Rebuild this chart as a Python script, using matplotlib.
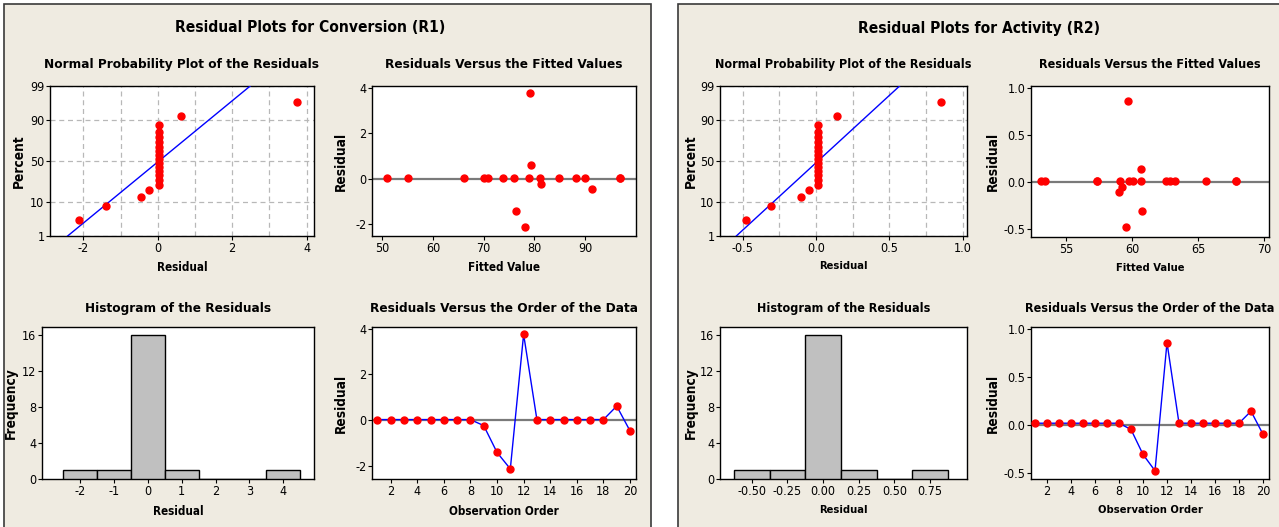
import matplotlib
matplotlib.use('Agg')
import matplotlib.pyplot as plt
import numpy as np
from matplotlib import font_manager
from matplotlib.patches import Rectangle
from statistics import NormalDist

# --- datos ---
orden = list(range(1, 21))

conv_resid = [0.03, 0.03, 0.03, 0.03, 0.03, 0.03, 0.03, 0.03, -0.23, -1.40,
              -2.12, 3.75, 0.03, 0.03, 0.03, 0.03, 0.03, 0.03, 0.62, -0.46]
conv_ajuste = [51.0, 55.0, 66.1, 70.0, 70.9, 73.9, 75.9, 79.0, 81.2, 76.4,
               78.2, 79.2, 81.0, 84.9, 88.1, 90.0, 96.9, 96.9, 79.4, 91.3]

act_resid = [0.015, 0.015, 0.015, 0.015, 0.015, 0.015, 0.015, 0.015, -0.05, -0.31,
             -0.48, 0.855, 0.015, 0.015, 0.015, 0.015, 0.015, 0.015, 0.14, -0.10]
act_ajuste = [53.16, 53.41, 57.32, 57.32, 59.09, 59.80, 60.05, 60.66, 59.24, 60.76,
              59.55, 59.70, 62.58, 62.90, 63.23, 65.60, 67.88, 67.88, 60.66, 58.99]

conv_bins = [-2.5, -1.5, -0.5, 0.5, 1.5, 2.5, 3.5, 4.5]
act_bins = [-0.625, -0.375, -0.125, 0.125, 0.375, 0.625, 0.875]

pct_ticks = [1, 10, 50, 90, 99]


# buscar una fuente estrecha (condensed / narrow) entre las instaladas
def buscar(bold):
    mejores = []
    for f in font_manager.fontManager.ttflist:
        estrecha = ('Narrow' in f.name or 'Condensed' in f.name or 'Condensed' in f.fname
                    or f.stretch in ('condensed', 'semi-condensed', 'extra-condensed'))
        w = f.weight if isinstance(f.weight, int) else (700 if f.weight == 'bold' else 400)
        if estrecha and f.style == 'normal' and ((w >= 600) == bold):
            mejores.append(f.fname)
    if mejores:
        return font_manager.FontProperties(fname=sorted(mejores)[0])
    return font_manager.FontProperties(family='Liberation Sans', weight='bold' if bold else 'normal')


fp_bold = buscar(True)
fp_num = buscar(False)
plt.rcParams['axes.unicode_minus'] = False

W, H = 1279, 527
fig = plt.figure(figsize=(W / 100, H / 100), dpi=100, facecolor='white')
beige = '#EFEBE1'

# paneles de fondo
fig.patches.append(Rectangle((4 / W, -0.01), 647 / W, (H - 4) / H + 0.01, transform=fig.transFigure,
                             facecolor=beige, edgecolor='#3a3a3a', linewidth=1.2, zorder=-5))
fig.patches.append(Rectangle((678 / W, -0.01), (W - 678 + 5) / W, (H - 4) / H + 0.01,
                             transform=fig.transFigure, facecolor=beige, edgecolor='#3a3a3a',
                             linewidth=1.2, zorder=-5))


def px_axes(l, t, r, b):
    ax = fig.add_axes([l / W, 1 - b / H, (r - l) / W, (b - t) / H])
    ax.set_facecolor('white')
    for s in ax.spines.values():
        s.set_color('black')
        s.set_linewidth(1.0)
    ax.tick_params(direction='out', length=3, width=0.8, pad=1)
    ax.tick_params(which='minor', length=0)
    return ax


def fuente(txt, fp, size):
    txt.set_fontproperties(fp)
    txt.set_fontsize(size)


def titulo(ax, txt, pad, size):
    t = ax.set_title(txt, pad=pad)
    fuente(t, fp_bold, size)


def etiquetas(ax, xl, yl, ypos_x, xpos_y, xsize):
    fuente(ax.set_xlabel(xl), fp_bold, xsize)
    fuente(ax.set_ylabel(yl), fp_bold, 9.8)
    ax.xaxis.set_label_coords(0.5, ypos_x)
    ax.yaxis.set_label_coords(xpos_y, 0.5)
    for lab in ax.get_xticklabels() + ax.get_yticklabels():
        fuente(lab, fp_num, 9)


nd = NormalDist()
zmin, zmax = nd.inv_cdf(0.01), nd.inv_cdf(0.99)


def prob_normal(ax, resid, xlim, xmaj, xmin_, fmt):
    r = np.sort(np.array(resid))
    n = len(r)
    z = [nd.inv_cdf((i - 0.3) / (n + 0.4)) for i in range(1, n + 1)]
    mu, sd = np.mean(r), np.std(r, ddof=1)
    ax.plot([mu + sd * zmin, mu + sd * zmax], [zmin, zmax], color='#0000FF', lw=1, zorder=3)
    ax.plot(r, z, 'o', color='#FF0000', ms=5, zorder=4, clip_on=False)
    ax.set_xlim(*xlim)
    ax.set_ylim(zmin, zmax)
    ax.set_yticks([nd.inv_cdf(p / 100) for p in pct_ticks])
    ax.set_yticklabels([str(p) for p in pct_ticks])
    ax.set_xticks(xmaj)
    ax.set_xticks(xmin_, minor=True)
    ax.set_xticklabels([fmt % v for v in xmaj])
    ax.grid(True, which='both', axis='x', color='#B8B8B8', linestyle=(0, (4, 3)), lw=0.9)
    ax.grid(True, which='major', axis='y', color='#B8B8B8', linestyle=(0, (4, 3)), lw=0.9)
    ax.set_axisbelow(True)


def vs_ajuste(ax, ajuste, resid, xlim, ylim, xt, yt, fmt):
    ax.axhline(0, color='#7a7a7a', lw=1.6, zorder=2)
    ax.plot(ajuste, resid, 'o', color='#FF0000', ms=5, zorder=4)
    ax.set_xlim(*xlim)
    ax.set_ylim(*ylim)
    ax.set_xticks(xt)
    ax.set_xticklabels([str(v) for v in xt])
    ax.set_yticks(yt)
    ax.set_yticklabels([fmt % v for v in yt])


def histo(ax, resid, bins, xlim, xt, fmt):
    ax.hist(resid, bins=bins, color='#C0C0C0', edgecolor='black', lw=1, zorder=3)
    ax.set_xlim(*xlim)
    ax.set_ylim(0, 16.85)
    ax.set_xticks(xt)
    ax.set_xticklabels([fmt % v for v in xt])
    ax.set_yticks([0, 4, 8, 12, 16])
    ax.set_yticklabels(['0', '4', '8', '12', '16'])


def vs_orden(ax, resid, xlim, ylim, yt, fmt):
    ax.axhline(0, color='#7a7a7a', lw=1.6, zorder=2)
    ax.plot(orden, resid, '-', color='#0000FF', lw=1, zorder=3)
    ax.plot(orden, resid, 'o', color='#FF0000', ms=5, zorder=4)
    ax.set_xlim(*xlim)
    ax.set_ylim(*ylim)
    xt = list(range(2, 21, 2))
    ax.set_xticks(xt)
    ax.set_xticklabels([str(v) for v in xt])
    ax.set_yticks(yt)
    ax.set_yticklabels([fmt % v for v in yt])


# ---------- Panel izquierdo: Conversion ----------
t = fig.text(310 / W, 1 - 28 / H, 'Residual Plots for Conversion (R1)', ha='center', va='center')
fuente(t, fp_bold, 11.2)

a1 = px_axes(50, 86, 314, 236)
prob_normal(a1, conv_resid, (-2.9, 4.2), [-2, 0, 2, 4], [-1, 1, 3], '%g')
titulo(a1, 'Normal Probability Plot of the Residuals', 13, 9.7)
etiquetas(a1, 'Residual', 'Percent', -0.17, -0.09, 8.4)

a2 = px_axes(372, 86, 636, 236)
vs_ajuste(a2, conv_ajuste, conv_resid, (48.0, 100.0), (-2.51, 4.07), [50, 60, 70, 80, 90],
          [-2, 0, 2, 4], '%g')
titulo(a2, 'Residuals Versus the Fitted Values', 13, 9.7)
etiquetas(a2, 'Fitted Value', 'Residual', -0.17, -0.09, 8.4)

a3 = px_axes(42, 327, 314, 479)
histo(a3, conv_resid, conv_bins, (-3.11, 4.9), [-2, -1, 0, 1, 2, 3, 4], '%g')
titulo(a3, 'Histogram of the Residuals', 11, 9.7)
etiquetas(a3, 'Residual', 'Frequency', -0.17, -0.09, 8.4)

a4 = px_axes(372, 327, 636, 479)
vs_orden(a4, conv_resid, (0.6, 20.45), (-2.56, 4.07), [-2, 0, 2, 4], '%g')
titulo(a4, 'Residuals Versus the Order of the Data', 11, 9.7)
etiquetas(a4, 'Observation Order', 'Residual', -0.17, -0.09, 8.4)

# ---------- Panel derecho: Activity ----------
t = fig.text(979 / W, 1 - 28 / H, 'Residual Plots for Activity (R2)', ha='center', va='center')
fuente(t, fp_bold, 11.2)

b1 = px_axes(720, 86, 967, 236)
prob_normal(b1, act_resid, (-0.655, 1.03), [-0.5, 0.0, 0.5, 1.0], [-0.25, 0.25, 0.75], '%.1f')
titulo(b1, 'Normal Probability Plot of the Residuals', 13, 9.0)
etiquetas(b1, 'Residual', 'Percent', -0.17, -0.09, 8.0)

b2 = px_axes(1031, 86, 1269, 237)
vs_ajuste(b2, act_ajuste, act_resid, (52.37, 70.35), (-0.582, 1.018), [55, 60, 65, 70],
          [-0.5, 0.0, 0.5, 1.0], '%.1f')
titulo(b2, 'Residuals Versus the Fitted Values', 13, 9.0)
etiquetas(b2, 'Fitted Value', 'Residual', -0.17, -0.13, 8.0)

b3 = px_axes(720, 327, 967, 479)
histo(b3, act_resid, act_bins, (-0.722, 1.009), [-0.5, -0.25, 0.0, 0.25, 0.5, 0.75], '%.2f')
titulo(b3, 'Histogram of the Residuals', 11, 9.0)
etiquetas(b3, 'Residual', 'Frequency', -0.17, -0.09, 8.0)

b4 = px_axes(1031, 327, 1269, 479)
vs_orden(b4, act_resid, (0.667, 20.5), (-0.566, 1.017), [-0.5, 0.0, 0.5, 1.0], '%.1f')
titulo(b4, 'Residuals Versus the Order of the Data', 11, 9.0)
etiquetas(b4, 'Observation Order', 'Residual', -0.17, -0.13, 8.0)

fig.savefig('out.png', dpi=100, facecolor='white')
